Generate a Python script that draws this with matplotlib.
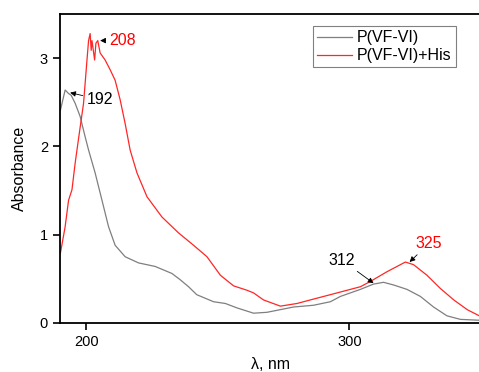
import matplotlib
matplotlib.use("Agg")
import matplotlib.pyplot as plt

plt.rcParams['font.family'] = ['Liberation Sans', 'DejaVu Sans']

# P(VF-VI)
wl_gray = [190.2, 192, 193.3, 194.3, 195.8, 197.7, 199.6, 200.9, 203.4, 206, 208.5, 211, 214.8,
           219.9, 226.2, 232.6, 235.7, 238.9, 242, 248.4, 252.9, 257.3, 263.6, 268.7, 278.8,
           286.4, 292.8, 296.6, 304.2, 309.2, 313, 316.8, 321.9, 327, 332, 337.1, 342.2, 349.4]
abs_gray = [2.41, 2.64, 2.6, 2.58, 2.49, 2.34, 2.11, 1.96, 1.7, 1.39, 1.09, 0.88, 0.75,
            0.68, 0.64, 0.56, 0.49, 0.41, 0.32, 0.24, 0.22, 0.17, 0.11, 0.12, 0.18,
            0.2, 0.24, 0.3, 0.38, 0.44, 0.46, 0.43, 0.38, 0.3, 0.18, 0.08, 0.04, 0.03]

# P(VF-VI)+His
wl_red = [190.2, 192, 193.3, 194.6, 195.8, 197.1, 199, 200.3, 200.9, 201.5, 201.9, 202.2, 203.2,
          203.7, 204.4, 205.3, 207.2, 209.1, 211, 212.9, 214.8, 216.7, 219.3, 223.1, 228.8,
          235.1, 240.8, 245.9, 251, 256, 261.1, 263.6, 267.4, 273.8, 280.1, 286.4, 292.8,
          296.6, 304.2, 308, 314.3, 321.3, 324.4, 329.5, 334.6, 339.7, 344.8, 349.4]
abs_red = [0.79, 1.09, 1.39, 1.51, 1.81, 2.09, 2.49, 2.98, 3.2, 3.28, 3.09, 3.2, 2.98,
           3.17, 3.2, 3.06, 2.98, 2.87, 2.75, 2.53, 2.26, 1.96, 1.7, 1.43, 1.2,
           1.02, 0.88, 0.75, 0.54, 0.42, 0.37, 0.34, 0.26, 0.19, 0.22, 0.27, 0.32,
           0.35, 0.41, 0.47, 0.58, 0.69, 0.66, 0.54, 0.39, 0.26, 0.15, 0.08]

# peak labels: text, text pos, arrow tip, colour
peaks = [
    ("192", (205.3, 2.53), (193.9, 2.61), "black"),
    ("208", (214.0, 3.2), (205.3, 3.2), "red"),
    ("312", (297.2, 0.71), (309.2, 0.45), "black"),
    ("325", (330.2, 0.9), (322.9, 0.69), "red"),
]

fig = plt.figure(figsize=(4.79, 3.72), dpi=100)
ax = fig.add_axes([0.125, 0.132, 0.879, 0.83])

ax.plot(wl_gray, abs_gray, color="#7f7f7f", lw=0.9, label="P(VF-VI)")
ax.plot(wl_red, abs_red, color="#ff2626", lw=0.9, label="P(VF-VI)+His")

for txt, tpos, tip, col in peaks:
    ax.annotate(txt, xy=tip, xytext=tpos, color=col, fontsize=11.5, ha="center", va="center",
                arrowprops=dict(arrowstyle="-|>", color="black", lw=0.6,
                                mutation_scale=8, shrinkA=1, shrinkB=0))

ax.set_xlim(190, 350)
ax.set_ylim(0, 3.5)
ax.set_xticks([200, 300])
ax.set_yticks([0, 1, 2, 3])
ax.tick_params(direction="out", length=5, width=1.2, labelsize=10.5)
for s in ax.spines.values():
    s.set_linewidth(1.3)

ax.set_xlabel("λ, nm", fontsize=11.5, labelpad=6)
ax.set_ylabel("Absorbance", fontsize=11.5, labelpad=9)

leg = ax.legend(loc="upper right", bbox_to_anchor=(0.94, 0.961), fontsize=11.5, fancybox=False,
                framealpha=1, edgecolor="#808080", borderpad=0.25, labelspacing=0.2,
                handlelength=2.2, handletextpad=0.3, borderaxespad=0)
leg.get_frame().set_linewidth(0.8)

fig.savefig("out.png", dpi=100)
